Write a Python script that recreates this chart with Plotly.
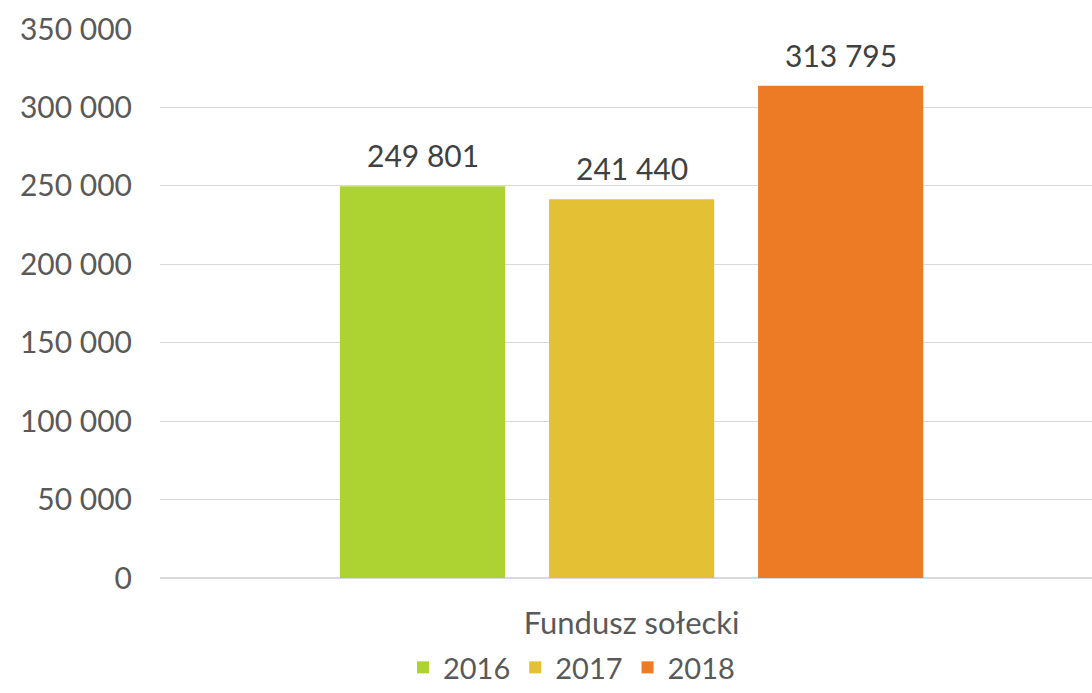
import plotly.graph_objects as go

category = ["Fundusz sołecki"]
years = ["2016", "2017", "2018"]
values = [249801, 241440, 313795]
colors = ["#ADD332", "#E4C134", "#ED7A24"]

FONT = "Lato, 'DejaVu Sans', sans-serif"
GREY = "#595959"

BARGAP = 0.327
GROUPGAP = 0.21

fig = go.Figure()
for yr, v, c in zip(years, values, colors):
    fig.add_trace(go.Bar(
        x=category, y=[v], name=yr, marker=dict(color=c, line=dict(width=0)),
    ))

# data labels above bars
slot = 932 * (1 - BARGAP) / 3
for i, v in enumerate(values):
    fig.add_annotation(
        x=category[0], y=v, xref="x", yref="y",
        text=f"{v:,}".replace(",", " "),
        showarrow=False, yanchor="bottom", yshift=11,
        xshift=(i - 1) * slot,
        font=dict(family=FONT, size=30, color="#404040"),
    )

fig.update_layout(
    width=1092, height=693,
    margin=dict(l=160, r=0, t=29, b=115, autoexpand=False),
    plot_bgcolor="white", paper_bgcolor="white",
    barmode="group", bargap=BARGAP, bargroupgap=GROUPGAP,
    separators=", ",
    font=dict(family=FONT, size=29, color=GREY),
    showlegend=True,
    legend=dict(orientation="h", x=0.4415, xanchor="center", y=0.0, yref="container",
                yanchor="bottom", tracegroupgap=0,
                font=dict(family=FONT, size=29, color=GREY), itemwidth=30,
                traceorder="normal"),
    xaxis=dict(range=[-0.506, 0.494], showline=False, ticks="", ticklabelstandoff=24,
               tickfont=dict(family=FONT, size=31, color=GREY)),
    yaxis=dict(range=[0, 350000], dtick=50000, tickformat=",d", showgrid=True,
               gridcolor="#D9D9D9", gridwidth=1, zeroline=True, zerolinecolor="#D9D9D9",
               zerolinewidth=1.5, ticks="", ticklabelstandoff=27,
               tickfont=dict(family=FONT, size=30, color=GREY)),
)

fig.write_html("out.html")
